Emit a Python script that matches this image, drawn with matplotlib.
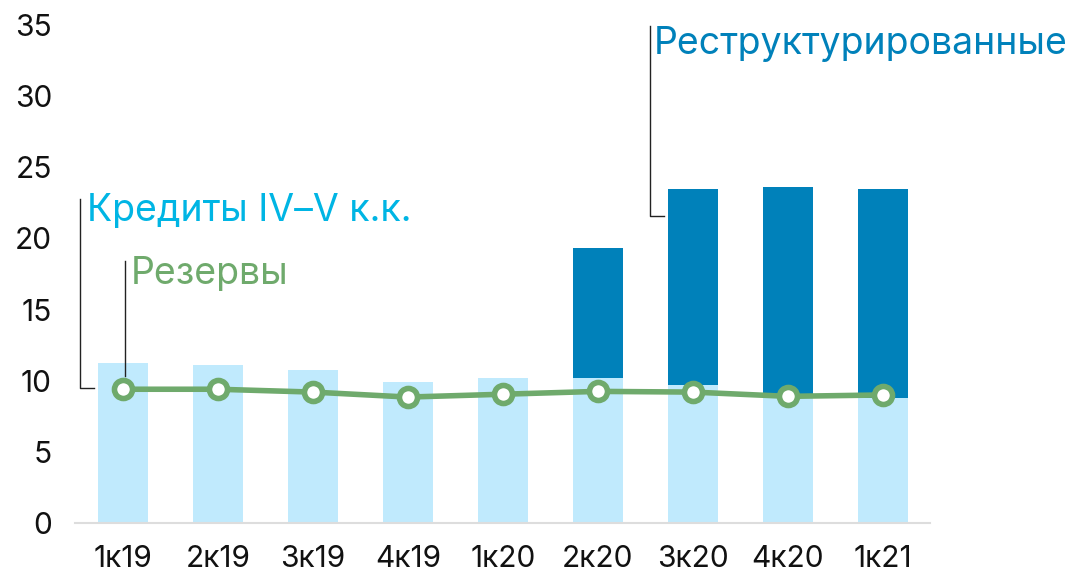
import matplotlib.pyplot as plt
import numpy as np

quarters = ['1к19', '2к19', '3к19', '4к19', '1к20', '2к20', '3к20', '4к20', '1к21']
loans_4_5 = [11.25, 11.1, 10.75, 9.9, 10.2, 10.2, 9.7, 9.1, 8.75]
totals = [None, None, None, None, None, 19.3, 23.45, 23.6, 23.5]
reserves = [9.4, 9.4, 9.2, 8.85, 9.05, 9.25, 9.2, 8.9, 9.0]

restructured = [0 if t is None else t - b for t, b in zip(totals, loans_4_5)]

light = '#C0EAFD'
dark = '#0081BA'
green = '#6FAA6C'
cyan = '#00B5E4'

plt.rcParams['font.family'] = ['Inter', 'DejaVu Sans']

fig = plt.figure(figsize=(10.66, 5.73), dpi=100)
ax = fig.add_axes([0.0708, 0.0873, 0.802, 0.869])

x = np.arange(len(quarters))
ax.bar(x, loans_4_5, width=0.53, color=light, zorder=1)
ax.bar(x, restructured, width=0.53, bottom=loans_4_5, color=dark, zorder=1)
ax.plot(x, reserves, color=green, linewidth=4, marker='o', markersize=13,
        markerfacecolor='white', markeredgecolor=green, markeredgewidth=4, zorder=3)

ax.set_xlim(-0.5, 8.5)
ax.set_ylim(0, 35)
ax.set_yticks(range(0, 36, 5))
ax.set_xticks(x)
ax.set_xticklabels(quarters)
ax.tick_params(axis='both', length=0, labelsize=21.5, colors='#111111')
ax.tick_params(axis='y', pad=17)
ax.tick_params(axis='x', pad=16)
for s in ['top', 'right', 'left']:
    ax.spines[s].set_visible(False)
ax.spines['bottom'].set_color('#DDDDDD')
ax.spines['bottom'].set_linewidth(1.5)

# bracket labels
ax.plot([-0.45, -0.45, -0.3], [22.8, 9.5, 9.5], color='#222222', lw=1, clip_on=False)
ax.text(-0.38, 21.9, 'Кредиты IV–V к.к.', color=cyan, fontsize=27, va='center', ha='left')
ax.plot([0.02, 0.02], [18.4, 10.3], color='#222222', lw=1, clip_on=False)
ax.text(0.08, 17.5, 'Резервы', color=green, fontsize=27, va='center', ha='left')
ax.plot([5.55, 5.55, 5.7], [34.9, 21.6, 21.6], color='#222222', lw=1, clip_on=False)
ax.text(5.59, 33.7, 'Реструктурированные', color=dark, fontsize=27, va='center', ha='left')

fig.savefig('out.png', dpi=100)
